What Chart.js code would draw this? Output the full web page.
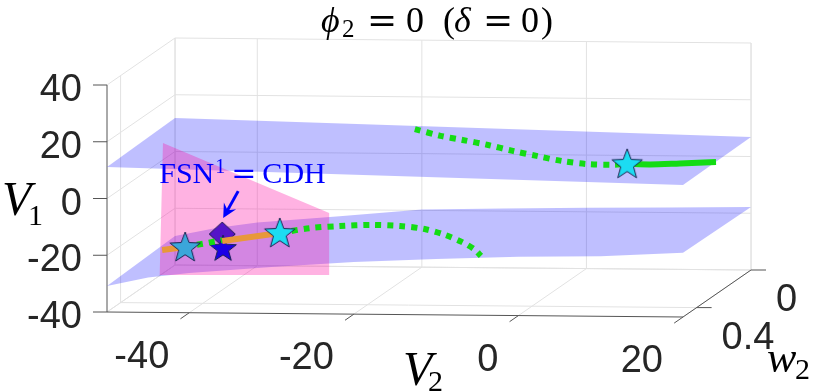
<!DOCTYPE html>
<html>
<head>
<meta charset="utf-8">
<script src="https://cdn.jsdelivr.net/npm/chart.js"></script>
<style>
  html, body { margin: 0; padding: 0; background: #fff; }
  canvas { display: block; }
</style>
</head>
<body>
<canvas id="chart" width="830" height="391"></canvas>
<script>
// axes
const v2Range = [-50, 20];
const w2Range = [0, 0.5];
const v1Range = [-40, 40];
const v2Ticks = [-40, -20, 0, 20];
const w2Ticks = [0, 0.4];
const v1Ticks = [-40, -20, 0, 20, 40];

// upper sheet: V1 along the front edge (w2 = 0.5) and back edge (w2 = 0)
const upperV2 = [-50, 20];
const upperFrontV1 = [11.1, 6.5];
const upperBackV1 = [11.8, 6.9];

// lower sheet
const lowerV2 = [-50, -45, -40, -30, -20, -10, 0, 10, 20];
const lowerFrontV1 = [-30.8, -27.7, -26.0, -23.6, -21.6, -20.3, -19.3, -18.8, -17.4];
const lowerBackV1 = [-29.8, -26.8, -24.8, -22.3, -19.7, -19.1, -18.6, -18.2, -17.8];

// pink section (constant w2)
const pinkW2 = 0.5;
const pinkV2 = [-43.2, -23.0, -23.0, -43.6];
const pinkV1 = [19.7, -4.4, -26.3, -26.8];

// lower branch
const lowW2 = 0.5;
const orangeAV2 = [-43.3, -40.5];
const orangeAV1 = [-18.0, -16.85];
const greenAV2 = [-40.5, -36.0];
const greenAV1 = [-16.85, -14.3];
const orangeBV2 = [-36.0, -29.0];
const orangeBV1 = [-14.6, -11.6];
const greenBV2 = [-29.0, -25.3, -21.7, -18.0, -14.4, -11.4, -8.9, -6.9, -5.4, -4.55];
const greenBV1 = [-11.6, -9.8, -9.0, -8.5, -8.8, -9.8, -11.8, -14.2, -16.7, -19.1];

// upper branch
const upW2 = 0.1;
const greenCV2 = [-19.2, -16.1, -13.4, -10.3, -7.3, -4.4, -1.3, 1.7, 4.8, 6.6];
const greenCV1 = [12.0, 9.7, 8.3, 6.6, 4.6, 2.9, 1.2, 0.2, 0.0, 0.4];
const solidCV2 = [6.6, 9.4, 13.0, 17.4];
const solidCV1 = [0.4, 0.25, 0.7, 1.3];

// special points
const starV2 = [-40.5, -29.0, 6.6];
const starW2 = [0.5, 0.5, 0.1];
const starV1 = [-16.85, -11.6, 0.4];
const fsnV2 = [-36.0];
const fsnV1 = [-12.2];
const darkStarV2 = [-35.9];
const darkStarV1 = [-17.1];

const W = 830, H = 391;
const box = { left: 107, right: 683, top: 85, bottom: 312 };  // front face of the box, px
const depthPx = [68, -47];  // offset of the w2 = 0 wall
const tiltPx = 5;

const kx = (box.right - box.left) / (v2Range[1] - v2Range[0]);
const ky = (box.bottom - box.top) / (v1Range[1] - v1Range[0]);

function proj(v2, w2, v1) {
  const d = (w2Range[1] - w2) / (w2Range[1] - w2Range[0]);
  const t = (v2 - v2Range[0]) / (v2Range[1] - v2Range[0]);
  return { x: v2 + depthPx[0] * d / kx, y: v1 - (tiltPx * t + depthPx[1] * d) / ky };
}
function curve(v2s, w2, v1s) {
  return v2s.map((v, i) => proj(v, Array.isArray(w2) ? w2[i] : w2, v1s[i]));
}
function surface(v2s, frontV1, backV1) {
  const front = v2s.map((v, i) => proj(v, w2Range[1], frontV1[i]));
  const back = v2s.map((v, i) => proj(v, w2Range[0], backV1[i])).reverse();
  return front.concat(back);
}

function starImage(R, fill) {
  const s = Math.ceil(2 * R + 4);
  const c = document.createElement('canvas');
  c.width = c.height = s;
  const g = c.getContext('2d');
  g.beginPath();
  for (let i = 0; i < 10; i++) {
    const r = i % 2 ? R * 0.42 : R;
    const a = -Math.PI / 2 + i * Math.PI / 5;
    g.lineTo(s / 2 + r * Math.cos(a), s / 2 + 1 + r * Math.sin(a));
  }
  g.closePath();
  g.fillStyle = fill;
  g.fill();
  g.strokeStyle = '#1b2450';
  g.lineWidth = 1;
  g.stroke();
  return c;
}
function diamondImage(hw, hh, fill) {
  const c = document.createElement('canvas');
  c.width = 2 * hw + 4; c.height = 2 * hh + 4;
  const g = c.getContext('2d');
  const cx = c.width / 2, cy = c.height / 2;
  g.beginPath();
  g.moveTo(cx, cy - hh); g.lineTo(cx + hw, cy); g.lineTo(cx, cy + hh); g.lineTo(cx - hw, cy);
  g.closePath();
  g.fillStyle = fill; g.fill();
  g.strokeStyle = '#1b1450'; g.lineWidth = 1; g.stroke();
  return c;
}

const cyanStar = starImage(16, '#1cdcf2');
const dimStar = starImage(16, '#3ba6da');
const blueStar = starImage(14, '#1a00e6');
const purpleDiamond = diamondImage(13, 12, '#5514c8');

const polyStyle = { type: 'line', fill: 'shape', borderColor: 'rgba(0,0,0,0)', borderWidth: 0, pointRadius: 0, tension: 0 };
const solid = (data, color, order) => ({ type: 'line', data, borderColor: color, borderWidth: 6, pointRadius: 0, tension: 0.3, order });
const dotted = (data, order) => ({ type: 'line', data, borderColor: '#14dc14', borderWidth: 6, borderDash: [6, 6], pointRadius: 0, tension: 0.3, order });

const xMin = v2Range[0] - box.left / kx, xMax = v2Range[1] + (W - box.right) / kx;
const yMin = v1Range[0] - (H - box.bottom) / ky, yMax = v1Range[1] + box.top / ky;

const box3d = {
  id: 'box3d',
  beforeDatasetsDraw(chart) {
    const ctx = chart.ctx;
    const P = (a, b, c) => { const q = proj(a, b, c); return [chart.scales.x.getPixelForValue(q.x), chart.scales.y.getPixelForValue(q.y)]; };
    const seg = (a, b) => { ctx.moveTo(a[0], a[1]); ctx.lineTo(b[0], b[1]); };
    const [v2a, v2b] = v2Range, [w2a, w2b] = w2Range, [v1a, v1b] = v1Range;
    ctx.save();
    ctx.lineWidth = 1;
    ctx.strokeStyle = '#e2e2e2';
    ctx.beginPath();
    v1Ticks.forEach(t => seg(P(v2a, w2a, t), P(v2b, w2a, t)));
    [v2a, ...v2Ticks, v2b].forEach(t => seg(P(t, w2a, v1a), P(t, w2a, v1b)));
    [v2a, ...v2Ticks].forEach(t => seg(P(t, w2a, v1a), P(t, w2b, v1a)));
    w2Ticks.forEach(t => seg(P(v2a, t, v1a), P(v2b, t, v1a)));
    v1Ticks.forEach(t => seg(P(v2a, w2a, t), P(v2a, w2b, t)));
    w2Ticks.forEach(t => seg(P(v2a, t, v1a), P(v2a, t, v1b)));
    ctx.stroke();

    ctx.strokeStyle = '#555';
    ctx.beginPath();
    seg(P(v2a, w2b, v1a), P(v2a, w2b, v1b));
    seg(P(v2a, w2b, v1a), P(v2b, w2b, v1a));
    seg(P(v2b, w2b, v1a), P(v2b, w2a, v1a));
    v1Ticks.forEach(t => { const p = P(v2a, w2b, t); seg(p, [p[0] - 14, p[1]]); });
    v2Ticks.forEach(t => seg(P(t, w2b, v1a), P(t, w2b + 0.065, v1a)));
    w2Ticks.forEach(t => { const p = P(v2b, t, v1a); seg(p, [p[0] + 15, p[1]]); });
    ctx.stroke();
    ctx.restore();
  },
  afterDatasetsDraw(chart) {
    const ctx = chart.ctx;
    const P = (a, b, c) => { const q = proj(a, b, c); return [chart.scales.x.getPixelForValue(q.x), chart.scales.y.getPixelForValue(q.y)]; };
    const [v2a, v2b] = v2Range, [w2a, w2b] = w2Range, [v1a] = v1Range;
    const sans = '38px "Liberation Sans", Arial, sans-serif';
    const serif = '"Liberation Serif", "DejaVu Serif", serif';
    const txt = (s, x, y, font, align) => { ctx.font = font; ctx.textAlign = align || 'left'; ctx.fillText(s, x, y); };
    ctx.save();
    ctx.textBaseline = 'alphabetic';
    ctx.fillStyle = '#262626';

    v1Ticks.forEach(t => { const p = P(v2a, w2b, t); txt(String(t), p[0] - 25, p[1] + 16, sans, 'right'); });
    v2Ticks.forEach(t => { const p = P(t, w2b, v1a); txt(String(t), p[0] - 20, p[1] + 55, sans, 'right'); });
    w2Ticks.forEach(t => { const p = P(v2b, t, v1a); txt(String(t), p[0] + 25, p[1] + 41, sans, 'left'); });

    // axis labels
    ctx.fillStyle = '#000';
    txt('V', 2, 215, 'italic 48px ' + serif);
    txt('1', 28, 225, '30px ' + serif);
    txt('V', 403, 385, 'italic 48px ' + serif);
    txt('2', 428, 391, '30px ' + serif);
    txt('w', 767, 372, 'italic 44px ' + serif);
    txt('2', 795, 379, '30px ' + serif);

    // title
    txt('\u03D5', 321, 32, 'italic 36px ' + serif);
    txt('2', 342, 37, '25px ' + serif);
    txt('=', 382, 32, '36px "DejaVu Serif", serif', 'center');
    txt('0', 406, 32, '36px ' + serif);
    txt('(', 443, 32, '36px ' + serif);
    txt('\u03B4', 454, 32, 'italic 36px ' + serif);
    txt('=', 498, 32, '36px "DejaVu Serif", serif', 'center');
    txt('0', 521, 32, '36px ' + serif);
    txt(')', 541, 32, '36px ' + serif);

    // annotation at the FSN point
    const d = P(fsnV2[0], lowW2, fsnV1[0]);
    ctx.fillStyle = '#0000ff';
    ctx.strokeStyle = '#0000ff';
    let x = d[0] - 63;
    const base = d[1] - 51;
    txt('FSN', x, base, '30px ' + serif); x += ctx.measureText('FSN').width + 1;
    txt('1', x, base - 10, '20px ' + serif); x += ctx.measureText('1').width + 6;
    ctx.font = '30px "DejaVu Serif", serif';
    const eqW = ctx.measureText('=').width;
    txt('=', x, base, '30px "DejaVu Serif", serif'); x += eqW + 6;
    txt('CDH', x, base, '30px ' + serif);

    const tail = [d[0] + 16, d[1] - 43], tip = [d[0] + 1, d[1] - 16];
    const ux = tip[0] - tail[0], uy = tip[1] - tail[1], L = Math.hypot(ux, uy);
    const nx = ux / L, ny = uy / L;
    ctx.lineWidth = 3;
    ctx.beginPath();
    ctx.moveTo(tail[0], tail[1]);
    ctx.lineTo(tip[0] - nx * 8, tip[1] - ny * 8);
    ctx.stroke();
    ctx.beginPath();
    ctx.moveTo(tip[0], tip[1]);
    ctx.lineTo(tip[0] - nx * 14 - ny * 7, tip[1] - ny * 14 + nx * 7);
    ctx.lineTo(tip[0] - nx * 9, tip[1] - ny * 9);
    ctx.lineTo(tip[0] - nx * 14 + ny * 7, tip[1] - ny * 14 - nx * 7);
    ctx.closePath();
    ctx.fill();
    ctx.restore();
  }
};

new Chart(document.getElementById('chart'), {
  type: 'scatter',
  data: {
    datasets: [
      Object.assign({}, polyStyle, { data: surface(lowerV2, lowerFrontV1, lowerBackV1), backgroundColor: 'rgba(0,0,255,0.25)', order: 10 }),
      Object.assign({}, polyStyle, { data: surface(upperV2, upperFrontV1, upperBackV1), backgroundColor: 'rgba(0,0,255,0.25)', order: 9 }),
      Object.assign({}, polyStyle, { data: curve(pinkV2.concat(pinkV2[0]), pinkW2, pinkV1.concat(pinkV1[0])), backgroundColor: 'rgba(255,0,160,0.3)', order: 8 }),
      { type: 'scatter', data: curve(fsnV2, lowW2, fsnV1), pointStyle: purpleDiamond, pointRadius: 8, order: 7 },
      { type: 'scatter', data: curve(darkStarV2, lowW2, darkStarV1), pointStyle: blueStar, pointRadius: 8, order: 6 },
      dotted(curve(greenAV2, lowW2, greenAV1), 5),
      dotted(curve(greenBV2, lowW2, greenBV1), 5),
      dotted(curve(greenCV2, upW2, greenCV1), 5),
      solid(curve(solidCV2, upW2, solidCV1), '#14dc14', 4),
      solid(curve(orangeAV2, lowW2, orangeAV1), '#e8983a', 3),
      solid(curve(orangeBV2, lowW2, orangeBV1), '#e8983a', 3),
      { type: 'scatter', data: curve(starV2, starW2, starV1), pointStyle: [dimStar, cyanStar, cyanStar], pointRadius: 8, order: 1 }
    ]
  },
  options: {
    responsive: false,
    devicePixelRatio: 1,
    animation: false,
    events: [],
    layout: { padding: 0, autoPadding: false },
    scales: {
      x: { type: 'linear', min: xMin, max: xMax, display: false },
      y: { type: 'linear', min: yMin, max: yMax, display: false }
    },
    plugins: { legend: { display: false }, tooltip: { enabled: false } }
  },
  plugins: [box3d]
});
</script>
</body>
</html>
